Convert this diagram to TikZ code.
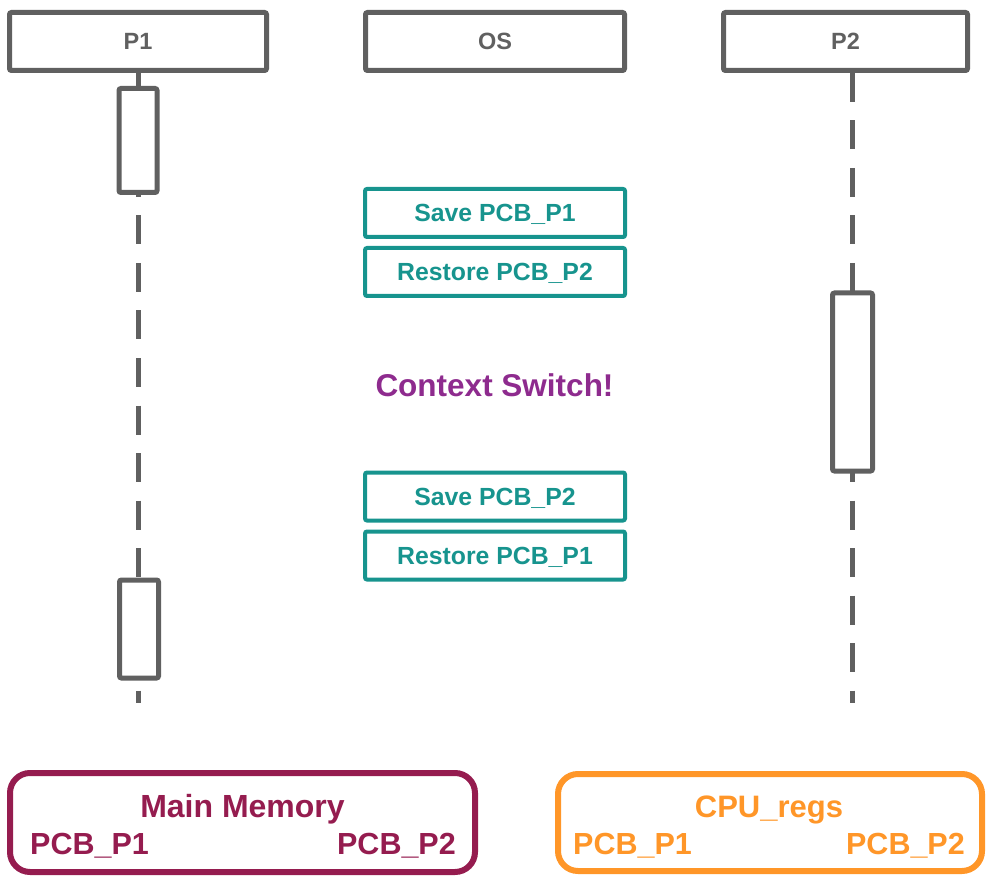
\documentclass[tikz,border=0pt]{standalone}
\usepackage{fontspec}
\setmainfont{Liberation Sans}
\definecolor{lgray}{HTML}{606060}
\definecolor{teal1}{HTML}{17948E}
\definecolor{purp}{HTML}{8E2B8E}
\definecolor{maroon1}{HTML}{951C4F}
\definecolor{orng}{HTML}{FF9628}
\begin{document}
\begin{tikzpicture}[x=1pt,y=-1pt,
  hdr/.style={draw=lgray,line width=5pt,rounded corners=2pt,inner sep=0pt,
    text=lgray,font=\fontsize{23.5}{26}\selectfont\bfseries,text height=16.8pt,text depth=0pt},
  act/.style={draw=lgray,line width=5pt,rounded corners=2pt,fill=white,inner sep=0pt},
  lifeline/.style={draw=lgray,line width=5pt,dash pattern=on 29pt off 18.5pt},
  osbox/.style={draw=teal1,line width=4pt,rounded corners=2pt,inner sep=0pt,
    minimum width=260pt,minimum height=48pt,
    text=teal1,font=\fontsize{24.8}{28}\selectfont\bfseries,text height=17.8pt,text depth=0pt},
  membox/.style={line width=6pt,rounded corners=20pt,inner sep=0pt},
  bigtxt/.style={font=\fontsize{30.5}{34}\selectfont\bfseries,inner sep=0pt,anchor=base},
]
\useasboundingbox (0,0) rectangle (990,882);
% header boxes
\node[hdr,minimum width=257pt,minimum height=58pt] (p1) at (138,41.5) {P1};
\node[hdr,minimum width=259pt,minimum height=58pt] (os) at (495,41.5) {OS};
\node[hdr,minimum width=244pt,minimum height=58pt] (p2) at (845.5,41.5) {P2};
% lifeline ends
\coordinate (p1end) at (138,703);
\coordinate (p2end) at (852.5,703);
\draw[lifeline] (p1.south) -- (p1end);
\draw[lifeline] (p2.south -| p2end) -- (p2end);
% activation boxes
\node[act,minimum width=38pt,minimum height=104pt] (p1a) at (138,140.5) {};
\node[act,minimum width=39pt,minimum height=98pt] (p1b) at (139,629) {};
\node[act,minimum width=40pt,minimum height=178pt] (p2a) at (852.5,382) {};
% OS actions
\node[osbox] (s1) at (495,213) {Save PCB\_P1};
\node[osbox] (r2) at (495,272) {Restore PCB\_P2};
\node[text=purp,font=\fontsize{31.5}{34}\selectfont\bfseries,inner sep=0pt,text height=22.6pt,text depth=0pt] (cs) at (494.5,385) {Context Switch!};
\node[osbox] (s2) at (495,496.5) {Save PCB\_P2};
\node[osbox] (r1) at (495,555.5) {Restore PCB\_P1};
% memory boxes
\node[membox,draw=maroon1,minimum width=465pt,minimum height=99pt] (mm) at (242.5,822.5) {};
\node[bigtxt,text=maroon1,font=\fontsize{32}{36}\selectfont\bfseries] (mmt) at (242.5,817.5) {Main Memory};
\node[bigtxt,text=maroon1,anchor=base west] (mm1) at (30,854) {PCB\_P1};
\node[bigtxt,text=maroon1,anchor=base east] (mm2) at (456,854) {PCB\_P2};
\node[membox,draw=orng,minimum width=424pt,minimum height=97pt] (cpu) at (770,822.5) {};
\node[bigtxt,text=orng,font=\fontsize{31}{35}\selectfont\bfseries] (cput) at (769,817) {CPU\_regs};
\node[bigtxt,text=orng,anchor=base west] (cpu1) at (573,854) {PCB\_P1};
\node[bigtxt,text=orng,anchor=base east] (cpu2) at (965,854) {PCB\_P2};
\end{tikzpicture}
\end{document}
